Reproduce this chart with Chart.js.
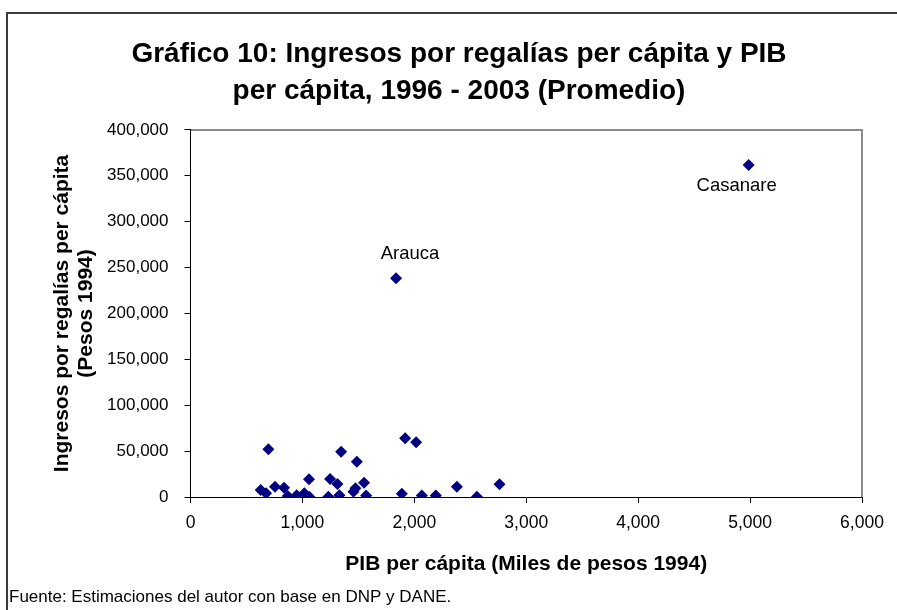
<!DOCTYPE html>
<html>
<head>
<meta charset="utf-8">
<script src="https://cdn.jsdelivr.net/npm/chart.js@4"></script>
<style>
  html, body { margin: 0; padding: 0; background: #fff; }
  #wrap { width: 897px; height: 610px; position: relative; }
</style>
</head>
<body>
<div id="wrap"><canvas id="scatter" width="897" height="610"></canvas></div>
<script>
// PIB per capita (miles de pesos 1994) and regalias per capita (pesos 1994)
var pibPerCapita = [696, 627, 675, 755, 836, 869, 949, 1017, 1059, 1062,
                    1232, 1247, 1313, 1330, 1346, 1456, 1474, 1486, 1551, 1569,
                    1888, 1918, 2016, 2067, 2192, 2380, 2559, 2761, 1837, 4987];
var regaliasPerCapita = [52000, 7600, 4000, 11200, 10100, 1100, 1800, 4000, 19300, 300,
                         200, 19600, 14200, 1800, 49400, 5800, 9500, 38500, 15600, 1500,
                         3600, 64000, 59600, 1500, 1500, 11200, 200, 13800, 238400, 361900];
var pointNames = ['', '', '', '', '', '', '', '', '', '',
                  '', '', '', '', '', '', '', '', '', '',
                  '', '', '', '', '', '', '', '', 'Arauca', 'Casanare'];
var xTicks = [0, 1000, 2000, 3000, 4000, 5000, 6000];
var yTicks = [0, 50000, 100000, 150000, 200000, 250000, 300000, 350000, 400000];
var fuente = 'Fuente: Estimaciones del autor con base en DNP y DANE.';

var points = pibPerCapita.map(function(x, i) {
  return { x: x, y: regaliasPerCapita[i] };
});

function fmt(v) { return Number(v).toLocaleString('en-US'); }

var FONT = '"Liberation Sans", Arial, sans-serif';

// frame, plot border, point names and source note
var decor = {
  id: 'decor',
  beforeDraw: function(chart) {
    var c = chart.ctx, a = chart.chartArea;
    c.save();
    c.fillStyle = '#fff';
    c.fillRect(0, 0, chart.width, chart.height);
    c.strokeStyle = '#3a3a3a';
    c.lineWidth = 2;
    c.beginPath();
    c.moveTo(7, 610); c.lineTo(7, 13); c.lineTo(897, 13);
    c.stroke();
    c.strokeStyle = '#8c8c8c';
    c.lineWidth = 2;
    c.beginPath();
    c.moveTo(a.left, a.top); c.lineTo(a.right, a.top); c.lineTo(a.right, a.bottom);
    c.stroke();
    c.restore();
  },
  afterDatasetsDraw: function(chart) {
    var c = chart.ctx;
    var meta = chart.getDatasetMeta(0);
    c.save();
    c.font = '18.5px ' + FONT;
    c.fillStyle = '#000';
    c.textAlign = 'center';
    c.textBaseline = 'middle';
    pointNames.forEach(function(name, i) {
      if (!name) return;
      var p = meta.data[i];
      if (name === 'Arauca') c.fillText(name, p.x + 14, p.y - 24);
      else c.fillText(name, p.x - 12, p.y + 21);
    });
    c.font = '17px ' + FONT;
    c.textAlign = 'left';
    c.fillText(fuente, 9, 597);
    c.restore();
  }
};

(function() {
  var ctx = document.getElementById('scatter').getContext('2d');
  new Chart(ctx, {
    type: 'scatter',
    data: {
      datasets: [{
        data: points,
        pointStyle: 'rectRot',
        pointRadius: 6,
        pointHoverRadius: 6,
        backgroundColor: '#000080',
        borderColor: '#000080',
        borderWidth: 0
      }]
    },
    options: {
      responsive: false,
      animation: false,
      layout: { padding: { left: 56, right: 35, top: 13, bottom: 33 } },
      scales: {
        x: {
          type: 'linear',
          min: 0,
          max: 6000,
          afterBuildTicks: function(s) { s.ticks = xTicks.map(function(v) { return { value: v }; }); },
          afterFit: function(s) { s.height = 80; },
          grid: { drawOnChartArea: false, color: '#000', tickLength: 6 },
          border: { color: '#000', width: 1 },
          ticks: {
            color: '#000',
            padding: 10,
            maxRotation: 0,
            font: { family: FONT, size: 17.5 },
            callback: function(v) { return fmt(v); }
          },
          title: {
            display: true,
            text: 'PIB per cápita (Miles de pesos 1994)',
            color: '#000',
            font: { family: FONT, size: 21, weight: 'bold', lineHeight: 1.2 },
            padding: { top: 0, bottom: 0 }
          }
        },
        y: {
          type: 'linear',
          min: 0,
          max: 400000,
          afterBuildTicks: function(s) { s.ticks = yTicks.map(function(v) { return { value: v }; }); },
          afterFit: function(s) { s.width = 134.5; },
          grid: { drawOnChartArea: false, color: '#000', tickLength: 6 },
          border: { color: '#000', width: 1 },
          ticks: {
            color: '#000',
            padding: 16,
            font: { family: FONT, size: 17 },
            callback: function(v) { return fmt(v); }
          },
          title: {
            display: true,
            text: ['Ingresos por regalías per cápita', '(Pesos 1994)'],
            color: '#000',
            font: { family: FONT, size: 21, weight: 'bold', lineHeight: 1.14 },
            padding: { top: -6, bottom: 0 }
          }
        }
      },
      plugins: {
        legend: { display: false },
        tooltip: { enabled: false },
        title: {
          display: true,
          text: ['Gráfico 10: Ingresos por regalías per cápita y PIB', 'per cápita, 1996 - 2003 (Promedio)'],
          color: '#000',
          font: { family: FONT, size: 28, weight: 'bold', lineHeight: 1.32 },
          padding: { top: 23, bottom: 20 }
        }
      }
    },
    plugins: [decor]
  });
})();
</script>
</body>
</html>
